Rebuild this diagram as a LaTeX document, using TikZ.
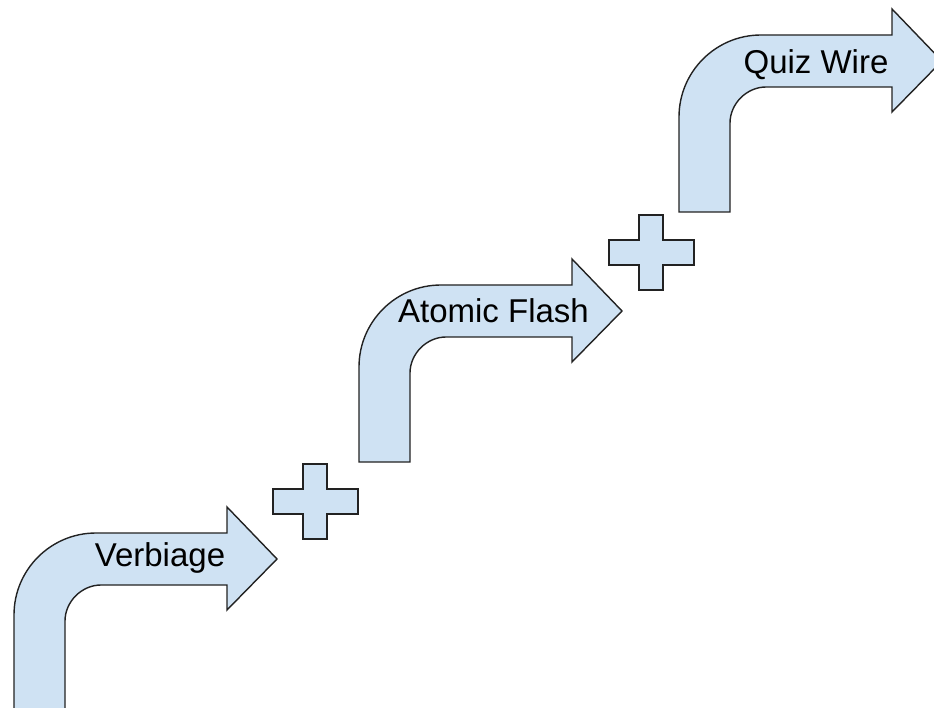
\documentclass[tikz,border=0pt]{standalone}
\usepackage{fontspec}
\setmainfont{Liberation Sans}
\definecolor{shapefill}{HTML}{CFE2F3}
\definecolor{shapeline}{HTML}{222222}
\tikzset{
  shapestyle/.style={fill=shapefill, draw=shapeline, line width=1.4pt, line join=miter},
  lbl/.style={anchor=base, inner sep=0pt, font=\fontsize{33}{40}\selectfont},
  pics/bentarrow/.style={code={
    \path[shapestyle] (0,0) -- (0,-95)
      .. controls (0,-140.3) and (36.7,-177) .. (82,-177)
      -- (213,-177) -- (213,-203) -- (263,-151) -- (213,-100) -- (213,-125)
      -- (87,-125)
      .. controls (67.7,-125) and (51,-108.3) .. (51,-89)
      -- (51,0) -- cycle;
  }},
  pics/plussign/.style={code={
    \path[shapestyle] (30,0) -- (54,0) -- (54,25) -- (85,25) -- (85,50) -- (54,50)
      -- (54,75) -- (30,75) -- (30,50) -- (0,50) -- (0,25) -- (30,25) -- cycle;
  }}
}
\begin{document}
\begin{tikzpicture}[x=1pt,y=-1pt]
\useasboundingbox (0,0) rectangle (934,708);
\clip (0,0) rectangle (934,708);
\pic (arrowA) at (14,710) {bentarrow};
\pic (arrowB) at (359,462) {bentarrow};
\pic (arrowC) at (679,212) {bentarrow};
\pic (plusA) at (273,464) {plussign};
\pic (plusB) at (609,215) {plussign};
\node[lbl] (verbiage) at (160,566) {Verbiage};
\node[lbl] (atomic) at (493.5,323) {Atomic Flash};
\node[lbl] (quiz) at (816,74) {Quiz Wire};
\end{tikzpicture}
\end{document}
